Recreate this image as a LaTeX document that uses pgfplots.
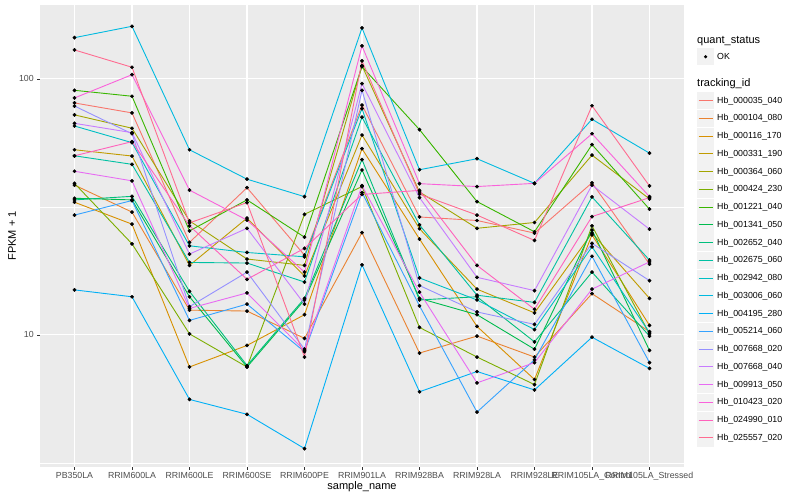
\documentclass[border=0pt]{standalone}
\usepackage{fontspec}
\setmainfont{Liberation Sans}
\usepackage{pgfplots}
\pgfplotsset{compat=1.18}
\usepackage{pgfplotstable}

\definecolor{panelbg}{HTML}{EBEBEB}
\definecolor{keybg}{HTML}{F2F2F2}
\definecolor{gray20}{HTML}{333333}
\definecolor{gray30}{HTML}{4D4D4D}
% ggplot hue palette, 20 levels
\definecolor{c1}{HTML}{F8766D}
\definecolor{c2}{HTML}{EA8331}
\definecolor{c3}{HTML}{D89000}
\definecolor{c4}{HTML}{C09B00}
\definecolor{c5}{HTML}{A3A500}
\definecolor{c6}{HTML}{7CAE00}
\definecolor{c7}{HTML}{39B600}
\definecolor{c8}{HTML}{00BB4E}
\definecolor{c9}{HTML}{00BF7D}
\definecolor{c10}{HTML}{00C1A3}
\definecolor{c11}{HTML}{00BFC4}
\definecolor{c12}{HTML}{00BAE0}
\definecolor{c13}{HTML}{00B0F6}
\definecolor{c14}{HTML}{35A2FF}
\definecolor{c15}{HTML}{9590FF}
\definecolor{c16}{HTML}{C77CFF}
\definecolor{c17}{HTML}{E76BF3}
\definecolor{c18}{HTML}{FA62DB}
\definecolor{c19}{HTML}{FF62BC}
\definecolor{c20}{HTML}{FF6C91}

% FPKM + 1, one row per sample, one column per tracking_id
\pgfplotstableread{
x  s1   s2   s3   s4   s5    s6   s7    s8   s9   s10  s11  s12   s13  s14  s15  s16  s17  s18   s19  s20
1  80.6 38.5 33.0 52.9 72.4  39.1 90.3  34.2 33.7 50.1 65.5 145.0 15.0 29.4 78.4 67.1 43.6 84.3  50.1 129.8
2  73.7 30.2 27.1 50.0 64.2  22.7 85.6  33.7 34.8 46.4 56.4 160.6 14.1 33.5 61.1 61.7 40.0 103.9 56.9 111.1
3  23.0 12.5 7.5  18.7 27.9  10.1 25.5  14.1 14.8 19.2 22.3 52.9  5.6  11.4 12.9 20.7 12.7 36.8  26.7 27.4
4  37.6 12.4 9.1  28.6 19.8  7.5  33.7  7.5  7.6  19.1 21.0 40.6  4.9  13.2 17.6 26.1 14.6 28.1  16.5 32.9
5  20.5 9.7  12.0 17.0 18.7  29.6 24.1  13.7 13.9 16.1 20.2 34.7  3.6  8.6  8.8  13.2 8.7  17.6  21.8 8.2
6  79.1 25.1 53.4 60.4 112.7 38.0 111.7 44.1 48.4 70.9 76.6 158.2 18.8 36.0 90.3 95.9 38.3 134.6 35.4 117.6
7  28.9 8.5  23.7 26.0 36.2  10.7 63.4  13.9 13.7 26.9 16.7 44.2  6.0  13.0 15.6 34.4 14.7 39.0  36.7 35.5
8  28.0 9.9  10.8 15.1 26.1  8.2  33.2  12.0 14.1 14.3 13.7 48.8  7.2  5.0  12.3 16.8 6.5  38.0  18.7 29.4
9  25.0 8.2  6.7  12.2 27.5  6.4  25.3  8.8  9.4  13.4 10.5 39.1  6.1  8.0  11.0 14.9 7.8  39.1  12.6 23.4
10 39.3 14.5 24.6 25.0 50.4  26.7 55.4  25.7 17.6 34.6 22.1 69.6  9.8  20.3 22.8 38.5 15.1 61.1  29.0 78.6
11 18.9 10.3 10.9 13.9 34.0  10.1 31.0  8.7  9.9  19.6 10.2 51.3  7.4  7.8  16.3 25.9 19.3 34.7  34.4 38.2
}\fpkm

\begin{document}
\begin{tikzpicture}
\path[use as bounding box, fill=white] (-40pt,-33pt) rectangle (760pt,467pt);

\begin{axis}[
  scale only axis,
  width=644pt, height=462pt,
  xmin=0.4, xmax=11.6,
  ymode=log, log basis y=10,
  ymin=3.05, ymax=194.5,
  axis background/.style={fill=panelbg},
  axis line style={draw=none},
  grid=both,
  major grid style={white, line width=1.07pt},
  minor grid style={white, line width=0.53pt},
  xtick={1,...,11},
  xticklabels={PB350LA,RRIM600LA,RRIM600LE,RRIM600SE,RRIM600PE,RRIM901LA,RRIM928BA,RRIM928LA,RRIM928LE,RRIM105LA\_Control,RRIM105LA\_Stressed},
  ytick={10,100}, yticklabels={10,100},
  minor ytick={3.1623,31.623},
  xtick pos=lower, ytick pos=left,
  tick align=outside,
  major tick length=2.75pt, minor tick length=0pt,
  tick style={draw=gray20, line width=0.8pt},
  tick label style={font=\fontsize{8.8}{10}\selectfont, text=gray30},
  xticklabel style={yshift=1pt},
]
\pgfplotsinvokeforeach{1,...,20}{
  \addplot[c#1, line width=0.9pt, no markers] table[x=x, y=s#1]{\fpkm};
}
\pgfplotsinvokeforeach{1,...,20}{
  \addplot[only marks, mark=*, mark size=1.7pt, black] table[x=x, y=s#1]{\fpkm};
}
\end{axis}

% axis titles
\node[font=\fontsize{11}{13}\selectfont] at (322pt,-20pt) {sample\_name};
\node[font=\fontsize{11}{13}\selectfont, rotate=90] at (-28pt,231pt) {FPKM + 1};

% legends
\node[font=\fontsize{11}{13}\selectfont, anchor=west, inner sep=0pt] at (657pt,426.3pt) {quant\_status};
\fill[keybg] (657pt,401.7pt) rectangle (674.3pt,419pt);
\fill[black] (665.6pt,410.3pt) circle (1.7pt);
\node[font=\fontsize{8.8}{10}\selectfont, anchor=west, inner sep=0pt] at (677pt,410.3pt) {OK};

\node[font=\fontsize{11}{13}\selectfont, anchor=west, inner sep=0pt] at (657pt,383pt) {tracking\_id};
\foreach \i/\lab in {1/Hb\_000035\_040,2/Hb\_000104\_080,3/Hb\_000116\_170,4/Hb\_000331\_190,5/Hb\_000364\_060,6/Hb\_000424\_230,7/Hb\_001221\_040,8/Hb\_001341\_050,9/Hb\_002652\_040,10/Hb\_002675\_060,11/Hb\_002942\_080,12/Hb\_003006\_060,13/Hb\_004195\_280,14/Hb\_005214\_060,15/Hb\_007668\_020,16/Hb\_007668\_040,17/Hb\_009913\_050,18/Hb\_010423\_020,19/Hb\_024990\_010,20/Hb\_025557\_020}{
  \pgfmathsetmacro{\yy}{366.3-17.75*(\i-1)}
  \fill[keybg] (657pt,\yy pt-8.6pt) rectangle (674.3pt,\yy pt+8.6pt);
  \draw[c\i, line width=0.9pt] (658.7pt,\yy pt) -- (672.6pt,\yy pt);
  \node[font=\fontsize{8.8}{10}\selectfont, anchor=west, inner sep=0pt] at (677pt,\yy pt) {\lab};
}
\end{tikzpicture}
\end{document}
